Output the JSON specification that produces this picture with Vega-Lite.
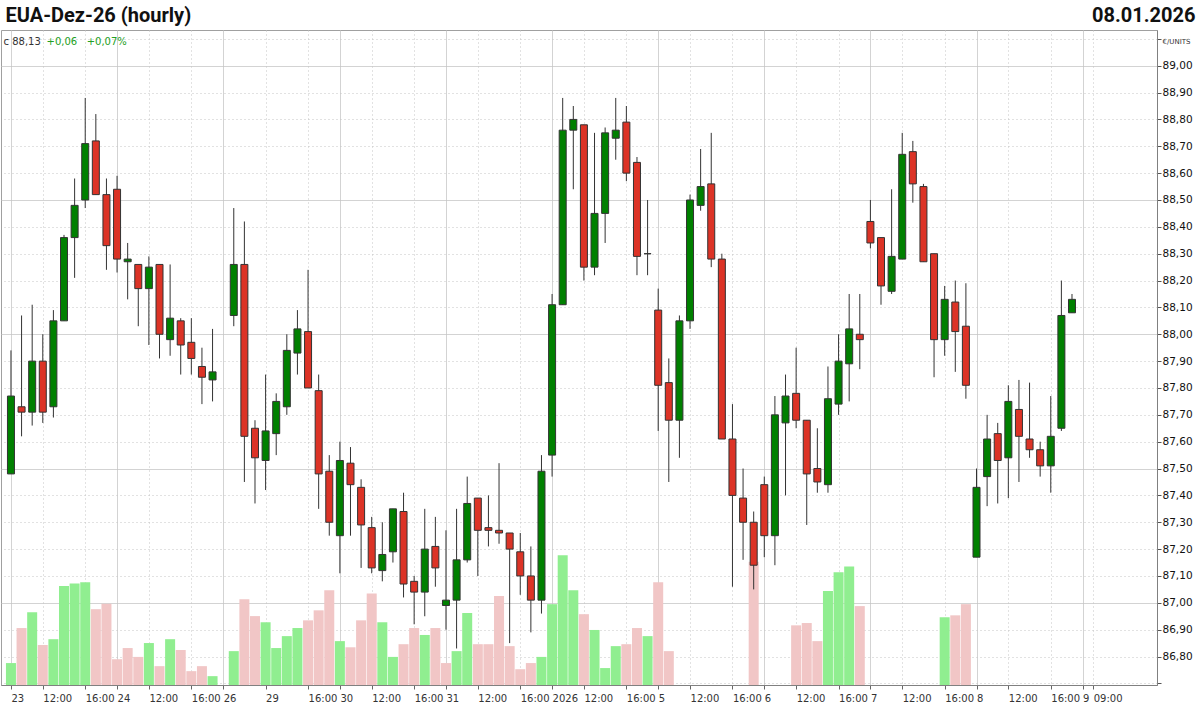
{
  "$schema": "https://vega.github.io/schema/vega-lite/v6.json",
  "width": 1156,
  "height": 655,
  "autosize": {"type": "none"},
  "padding": {"left": 1, "top": 30, "right": 43, "bottom": 20},
  "background": "white",
  "config": {"view": {"stroke": "#a0a0a0"}},
  "data": {"values": [
    {"i":0,"o":87.48,"h":87.94,"l":87.48,"c":87.77,"v":57,"vd":"up"},
    {"i":1,"o":87.73,"h":88.07,"l":87.62,"c":87.71,"v":148,"vd":"down"},
    {"i":2,"o":87.71,"h":88.11,"l":87.66,"c":87.90,"v":189,"vd":"up"},
    {"i":3,"o":87.90,"h":88.00,"l":87.67,"c":87.71,"v":104,"vd":"down"},
    {"i":4,"o":87.73,"h":88.09,"l":87.69,"c":88.05,"v":119,"vd":"up"},
    {"i":5,"o":88.05,"h":88.37,"l":88.05,"c":88.36,"v":257,"vd":"up"},
    {"i":6,"o":88.36,"h":88.58,"l":88.21,"c":88.48,"v":264,"vd":"up"},
    {"i":7,"o":88.50,"h":88.88,"l":88.47,"c":88.71,"v":267,"vd":"up"},
    {"i":8,"o":88.72,"h":88.82,"l":88.52,"c":88.52,"v":197,"vd":"down"},
    {"i":9,"o":88.52,"h":88.58,"l":88.24,"c":88.33,"v":211,"vd":"down"},
    {"i":10,"o":88.54,"h":88.59,"l":88.23,"c":88.28,"v":67,"vd":"down"},
    {"i":11,"o":88.27,"h":88.34,"l":88.13,"c":88.28,"v":96,"vd":"down"},
    {"i":12,"o":88.26,"h":88.26,"l":88.03,"c":88.17,"v":73,"vd":"down"},
    {"i":13,"o":88.17,"h":88.29,"l":87.96,"c":88.25,"v":109,"vd":"up"},
    {"i":14,"o":88.26,"h":88.26,"l":87.91,"c":88.00,"v":49,"vd":"down"},
    {"i":15,"o":87.98,"h":88.26,"l":87.92,"c":88.06,"v":119,"vd":"up"},
    {"i":16,"o":88.05,"h":88.06,"l":87.85,"c":87.96,"v":91,"vd":"down"},
    {"i":17,"o":87.97,"h":88.06,"l":87.85,"c":87.91,"v":36,"vd":"down"},
    {"i":18,"o":87.88,"h":87.95,"l":87.74,"c":87.84,"v":49,"vd":"down"},
    {"i":19,"o":87.83,"h":88.02,"l":87.75,"c":87.86,"v":23,"vd":"up"},
    {"i":21,"o":88.07,"h":88.47,"l":88.03,"c":88.26,"v":88,"vd":"up"},
    {"i":22,"o":88.26,"h":88.42,"l":87.45,"c":87.62,"v":223,"vd":"down"},
    {"i":23,"o":87.65,"h":87.68,"l":87.37,"c":87.54,"v":179,"vd":"down"},
    {"i":24,"o":87.53,"h":87.85,"l":87.42,"c":87.64,"v":163,"vd":"up"},
    {"i":25,"o":87.63,"h":87.78,"l":87.55,"c":87.75,"v":96,"vd":"up"},
    {"i":26,"o":87.73,"h":88.00,"l":87.70,"c":87.94,"v":127,"vd":"up"},
    {"i":27,"o":87.93,"h":88.09,"l":87.85,"c":88.02,"v":148,"vd":"up"},
    {"i":28,"o":88.01,"h":88.24,"l":87.80,"c":87.80,"v":168,"vd":"down"},
    {"i":29,"o":87.79,"h":87.85,"l":87.35,"c":87.48,"v":194,"vd":"down"},
    {"i":30,"o":87.49,"h":87.55,"l":87.25,"c":87.30,"v":246,"vd":"down"},
    {"i":31,"o":87.25,"h":87.60,"l":87.11,"c":87.53,"v":114,"vd":"up"},
    {"i":32,"o":87.52,"h":87.58,"l":87.25,"c":87.44,"v":98,"vd":"down"},
    {"i":33,"o":87.43,"h":87.46,"l":87.13,"c":87.29,"v":168,"vd":"down"},
    {"i":34,"o":87.28,"h":87.32,"l":87.11,"c":87.13,"v":238,"vd":"down"},
    {"i":35,"o":87.12,"h":87.30,"l":87.08,"c":87.18,"v":163,"vd":"up"},
    {"i":36,"o":87.19,"h":87.35,"l":87.15,"c":87.35,"v":73,"vd":"up"},
    {"i":37,"o":87.34,"h":87.41,"l":87.02,"c":87.07,"v":106,"vd":"down"},
    {"i":38,"o":87.08,"h":87.10,"l":86.92,"c":87.04,"v":148,"vd":"down"},
    {"i":39,"o":87.04,"h":87.35,"l":86.95,"c":87.20,"v":130,"vd":"up"},
    {"i":40,"o":87.21,"h":87.32,"l":87.06,"c":87.13,"v":148,"vd":"down"},
    {"i":41,"o":86.99,"h":87.27,"l":86.90,"c":87.01,"v":57,"vd":"down"},
    {"i":42,"o":87.01,"h":87.35,"l":86.83,"c":87.16,"v":88,"vd":"up"},
    {"i":43,"o":87.16,"h":87.47,"l":87.15,"c":87.37,"v":187,"vd":"up"},
    {"i":44,"o":87.39,"h":87.39,"l":87.10,"c":87.27,"v":106,"vd":"down"},
    {"i":45,"o":87.28,"h":87.40,"l":87.21,"c":87.27,"v":106,"vd":"down"},
    {"i":46,"o":87.27,"h":87.52,"l":87.22,"c":87.26,"v":231,"vd":"down"},
    {"i":47,"o":87.26,"h":87.26,"l":86.85,"c":87.20,"v":101,"vd":"down"},
    {"i":48,"o":87.19,"h":87.26,"l":87.03,"c":87.10,"v":41,"vd":"down"},
    {"i":49,"o":87.10,"h":87.21,"l":86.89,"c":87.01,"v":57,"vd":"down"},
    {"i":50,"o":87.01,"h":87.55,"l":86.96,"c":87.49,"v":73,"vd":"up"},
    {"i":51,"o":87.55,"h":88.15,"l":87.47,"c":88.11,"v":210,"vd":"up"},
    {"i":52,"o":88.11,"h":88.88,"l":88.11,"c":88.76,"v":337,"vd":"up"},
    {"i":53,"o":88.76,"h":88.85,"l":88.54,"c":88.80,"v":246,"vd":"up"},
    {"i":54,"o":88.78,"h":88.78,"l":88.20,"c":88.25,"v":184,"vd":"down"},
    {"i":55,"o":88.25,"h":88.75,"l":88.22,"c":88.45,"v":143,"vd":"up"},
    {"i":56,"o":88.45,"h":88.77,"l":88.34,"c":88.75,"v":44,"vd":"up"},
    {"i":57,"o":88.73,"h":88.88,"l":88.65,"c":88.76,"v":101,"vd":"up"},
    {"i":58,"o":88.79,"h":88.85,"l":88.57,"c":88.60,"v":106,"vd":"down"},
    {"i":59,"o":88.64,"h":88.66,"l":88.22,"c":88.29,"v":148,"vd":"down"},
    {"i":60,"o":88.30,"h":88.50,"l":88.22,"c":88.30,"v":127,"vd":"up"},
    {"i":61,"o":88.09,"h":88.17,"l":87.64,"c":87.81,"v":267,"vd":"down"},
    {"i":62,"o":87.82,"h":87.91,"l":87.45,"c":87.68,"v":88,"vd":"down"},
    {"i":63,"o":87.68,"h":88.07,"l":87.54,"c":88.05},
    {"i":64,"o":88.05,"h":88.52,"l":88.02,"c":88.50},
    {"i":65,"o":88.48,"h":88.69,"l":88.46,"c":88.55},
    {"i":66,"o":88.56,"h":88.75,"l":88.25,"c":88.28},
    {"i":67,"o":88.28,"h":88.30,"l":87.61,"c":87.61},
    {"i":68,"o":87.61,"h":87.74,"l":87.06,"c":87.40},
    {"i":69,"o":87.39,"h":87.50,"l":87.16,"c":87.30},
    {"i":70,"o":87.30,"h":87.34,"l":87.05,"c":87.14,"v":320,"vd":"down"},
    {"i":71,"o":87.44,"h":87.47,"l":87.17,"c":87.25},
    {"i":72,"o":87.25,"h":87.77,"l":87.14,"c":87.70},
    {"i":73,"o":87.67,"h":87.85,"l":87.40,"c":87.77},
    {"i":74,"o":87.78,"h":87.95,"l":87.65,"c":87.68,"v":155,"vd":"down"},
    {"i":75,"o":87.68,"h":87.68,"l":87.29,"c":87.48,"v":161,"vd":"down"},
    {"i":76,"o":87.50,"h":87.65,"l":87.41,"c":87.45,"v":114,"vd":"down"},
    {"i":77,"o":87.44,"h":87.88,"l":87.41,"c":87.76,"v":244,"vd":"up"},
    {"i":78,"o":87.74,"h":88.00,"l":87.70,"c":87.90,"v":293,"vd":"up"},
    {"i":79,"o":87.89,"h":88.15,"l":87.75,"c":88.02,"v":308,"vd":"up"},
    {"i":80,"o":88.00,"h":88.15,"l":87.87,"c":87.98,"v":205,"vd":"down"},
    {"i":81,"o":88.42,"h":88.50,"l":88.32,"c":88.34},
    {"i":82,"o":88.36,"h":88.36,"l":88.11,"c":88.18},
    {"i":83,"o":88.16,"h":88.54,"l":88.15,"c":88.29},
    {"i":84,"o":88.28,"h":88.75,"l":88.28,"c":88.67},
    {"i":85,"o":88.68,"h":88.72,"l":88.49,"c":88.56},
    {"i":86,"o":88.55,"h":88.56,"l":88.27,"c":88.27},
    {"i":87,"o":88.30,"h":88.30,"l":87.84,"c":87.98},
    {"i":88,"o":87.98,"h":88.18,"l":87.92,"c":88.13,"v":176,"vd":"up"},
    {"i":89,"o":88.12,"h":88.20,"l":87.86,"c":88.01,"v":181,"vd":"down"},
    {"i":90,"o":88.03,"h":88.19,"l":87.76,"c":87.81,"v":210,"vd":"down"},
    {"i":91,"o":87.17,"h":87.50,"l":87.17,"c":87.43},
    {"i":92,"o":87.47,"h":87.70,"l":87.36,"c":87.61},
    {"i":93,"o":87.63,"h":87.67,"l":87.37,"c":87.53},
    {"i":94,"o":87.54,"h":87.81,"l":87.39,"c":87.75},
    {"i":95,"o":87.72,"h":87.83,"l":87.45,"c":87.62},
    {"i":96,"o":87.61,"h":87.82,"l":87.54,"c":87.57},
    {"i":97,"o":87.57,"h":87.60,"l":87.47,"c":87.51},
    {"i":98,"o":87.51,"h":87.77,"l":87.41,"c":87.62},
    {"i":99,"o":87.65,"h":88.20,"l":87.64,"c":88.07},
    {"i":100,"o":88.08,"h":88.15,"l":88.08,"c":88.13}
  ]},
  "encoding": {
    "x": {
      "field": "i",
      "type": "quantitative",
      "scale": {"domain": [-0.467, 107.54], "nice": false, "zero": false},
      "axis": {
        "values": [0,3,7,10,13,17,20,24,28,31,34,38,41,44,48,51,54,58,61,64,68,71,74,78,81,84,88,91,94,98,101,102],
        "labelExpr": "indexof([3,13,34,44,54,64,74,84,94], datum.value) >= 0 ? '12:00' : indexof([7,17,28,38,48,58,68,78,88,98], datum.value) >= 0 ? '16:00' : datum.value == 0 ? '23' : datum.value == 10 ? '24' : datum.value == 20 ? '26' : datum.value == 24 ? '29' : datum.value == 31 ? '30' : datum.value == 41 ? '31' : datum.value == 51 ? '2026' : datum.value == 61 ? '5' : datum.value == 71 ? '6' : datum.value == 81 ? '7' : datum.value == 91 ? '8' : datum.value == 101 ? '9' : '09:00'",
        "labelAlign": "left",
        "labelFont": "DejaVu Sans",
        "labelFontSize": 10,
        "labelColor": "#333333",
        "labelPadding": 4,
        "labelOverlap": false,
        "labelFlush": false,
        "labelBound": false,
        "tickSize": 4,
        "tickColor": "#666666",
        "domainColor": "#808080",
        "grid": true,
        "gridColor": "#c4c4c4",
        "gridDash": {"condition": {"test": "indexof([0,10,20,31,41,51,61,71,81,91,101], datum.value) >= 0", "value": [1, 0]}, "value": [1, 3]},
        "title": "EUA-Dez-26 (hourly)",
        "titleX": 4,
        "titleY": -664,
        "titleAlign": "left",
        "titleAnchor": "start",
        "titleBaseline": "alphabetic",
        "titleAngle": 0,
        "titleFont": "Roboto",
        "titleFontSize": 20,
        "titleFontWeight": "bold",
        "titleColor": "#111111"
      }
    }
  },
  "layer": [
    {
      "transform": [{"filter": "isValid(datum.v)"}],
      "mark": {"type": "bar", "width": 10},
      "encoding": {
        "y": {
          "field": "v",
          "type": "quantitative",
          "scale": {"domain": [0, 1701.7], "nice": false},
          "axis": {
            "orient": "left",
            "labels": false,
            "ticks": false,
            "domain": false,
            "grid": false,
            "title": "08.01.2026",
            "titleAngle": 0,
            "titleX": 1194,
            "titleY": -9,
            "titleAlign": "right",
            "titleBaseline": "alphabetic",
            "titleFont": "Roboto",
            "titleFontSize": 20,
            "titleFontWeight": "bold",
            "titleColor": "#111111"
          }
        },
        "color": {
          "field": "vd",
          "type": "nominal",
          "scale": {"domain": ["up", "down"], "range": ["#90ee90", "#f1c6c6"]},
          "legend": null
        }
      }
    },
    {
      "mark": {"type": "rule", "color": "#333333", "strokeWidth": 1},
      "encoding": {
        "y": {
          "field": "l",
          "type": "quantitative",
          "scale": {"domain": [86.694, 89.133], "nice": false, "zero": false},
          "axis": {
            "orient": "right",
            "values": [86.7,86.8,86.9,87.0,87.1,87.2,87.3,87.4,87.5,87.6,87.7,87.8,87.9,88.0,88.1,88.2,88.3,88.4,88.5,88.6,88.7,88.8,88.9,89.0,89.1],
            "labelExpr": "datum.value < 86.75 ? '' : datum.value > 89.05 ? '' : replace(format(datum.value, '.2f'), '.', ',')",
            "labelFont": "DejaVu Sans",
            "labelFontSize": 10.5,
            "labelColor": "#111111",
            "labelPadding": 1,
            "labelOverlap": false,
            "labelFlush": false,
            "labelBound": false,
            "tickSize": 4,
            "tickColor": "#555555",
            "domainColor": "#808080",
            "grid": true,
            "gridColor": "#c4c4c4",
            "gridDash": {"condition": {"test": "indexof([87, 87.5, 88, 88.5, 89], datum.value) >= 0", "value": [1, 0]}, "value": [1, 3]},
            "title": "€/UNITS",
            "titleAngle": 0,
            "titleX": 5,
            "titleY": 11,
            "titleAlign": "left",
            "titleBaseline": "middle",
            "titleFont": "DejaVu Sans",
            "titleFontSize": 7,
            "titleFontWeight": "normal",
            "titleColor": "#333333"
          }
        },
        "y2": {"field": "h"}
      }
    },
    {
      "transform": [{"filter": "datum.c < datum.o"}],
      "mark": {"type": "bar", "width": 7, "stroke": "#333333", "strokeWidth": 1, "fill": "#dc3326"},
      "encoding": {
        "y": {
          "field": "o",
          "type": "quantitative",
          "scale": {"domain": [86.694, 89.133], "nice": false, "zero": false},
          "axis": {
            "orient": "left",
            "labels": false,
            "ticks": false,
            "domain": false,
            "grid": false,
            "title": "c 88,13",
            "titleAngle": 0,
            "titleX": 2,
            "titleY": 11,
            "titleAlign": "left",
            "titleBaseline": "middle",
            "titleFont": "DejaVu Sans",
            "titleFontSize": 10,
            "titleFontWeight": "normal",
            "titleColor": "#333333"
          }
        },
        "y2": {"field": "c"}
      }
    },
    {
      "transform": [{"filter": "datum.c >= datum.o"}],
      "mark": {"type": "bar", "width": 7, "stroke": "#333333", "strokeWidth": 1, "fill": "#008000"},
      "encoding": {
        "y": {
          "field": "o",
          "type": "quantitative",
          "scale": {"domain": [86.694, 89.133], "nice": false, "zero": false},
          "axis": {
            "orient": "left",
            "labels": false,
            "ticks": false,
            "domain": false,
            "grid": false,
            "title": "+0,06\u00a0\u00a0\u00a0+0,07%",
            "titleAngle": 0,
            "titleX": 45,
            "titleY": 11,
            "titleAlign": "left",
            "titleBaseline": "middle",
            "titleFont": "DejaVu Sans",
            "titleFontSize": 10,
            "titleFontWeight": "normal",
            "titleColor": "#22a022"
          }
        },
        "y2": {"field": "c"}
      }
    }
  ],
  "resolve": {"scale": {"y": "independent"}}
}
